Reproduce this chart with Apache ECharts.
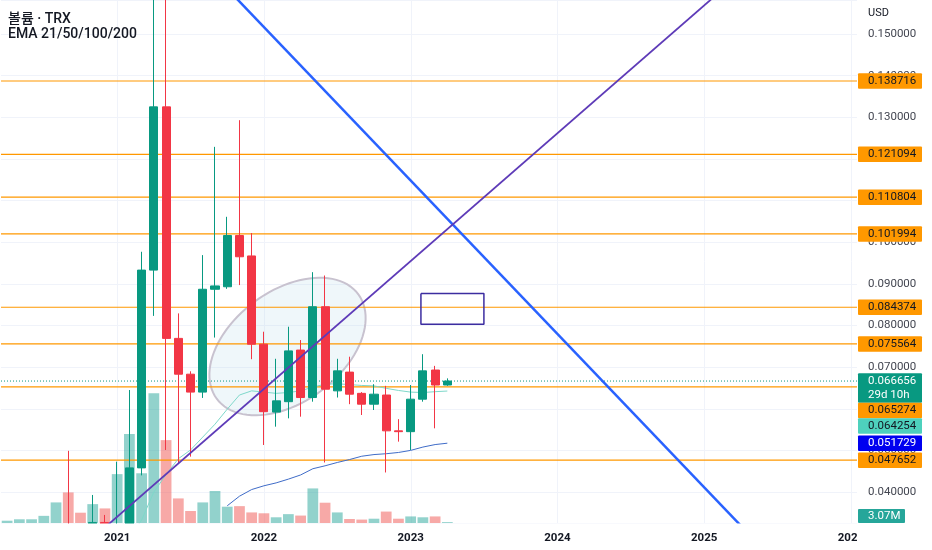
<!DOCTYPE html>
<html><head><meta charset="utf-8">
<script src="https://cdn.jsdelivr.net/npm/echarts@6/dist/echarts.min.js"></script>
<style>html,body{margin:0;padding:0;background:#fff}#c{width:932px;height:550px}</style>
</head><body><div id="c"></div>
<script>
// ---------- data ----------
const months = ['2020-04','2020-05','2020-06','2020-07','2020-08','2020-09','2020-10','2020-11','2020-12',
'2021-01','2021-02','2021-03','2021-04','2021-05','2021-06','2021-07','2021-08','2021-09','2021-10','2021-11','2021-12',
'2022-01','2022-02','2022-03','2022-04','2022-05','2022-06','2022-07','2022-08','2022-09','2022-10','2022-11','2022-12',
'2023-01','2023-02','2023-03','2023-04','2023-05','2023-06','2023-07','2023-08','2023-09','2023-10','2023-11','2023-12',
'2024-01','2024-02','2024-03','2024-04','2024-05','2024-06','2024-07','2024-08','2024-09','2024-10','2024-11','2024-12',
'2025-01','2025-02','2025-03','2025-04','2025-05','2025-06','2025-07','2025-08','2025-09','2025-10','2025-11','2025-12',
'2026-01'];
const opens  = [0.0134,0.0151,0.0156,0.0160,0.0201,0.0300,0.0260,0.0245,0.0327,0.0268,0.0294,0.0458,0.0933,0.1325,0.0769,0.0683,0.0640,0.0887,0.0893,0.1016,0.0967,0.0755,0.0592,0.0617,0.0741,0.0627,0.0845,0.0643,0.0688,0.0637,0.0611,0.0633,0.0547,0.0545,0.0623,0.0693,0.0657];
const highs  = [0.0161,0.0185,0.0186,0.0215,0.0320,0.0499,0.0275,0.0393,0.0345,0.0473,0.0645,0.0977,0.1800,0.1670,0.0829,0.0690,0.0969,0.1229,0.1061,0.1293,0.1022,0.0785,0.0720,0.0797,0.0765,0.0928,0.0920,0.0720,0.0725,0.0640,0.0659,0.0655,0.0575,0.0657,0.0731,0.0703,0.0673];
const lows   = [0.0128,0.0140,0.0152,0.0157,0.0195,0.0225,0.0227,0.0240,0.0245,0.0248,0.0285,0.0440,0.0823,0.0501,0.0470,0.0485,0.0626,0.0771,0.0888,0.0897,0.0719,0.0513,0.0557,0.0577,0.0581,0.0617,0.0471,0.0627,0.0611,0.0585,0.0597,0.0447,0.0521,0.0501,0.0617,0.0553,0.0655];
const closes = [0.0151,0.0156,0.0160,0.0201,0.0300,0.0260,0.0245,0.0327,0.0268,0.0294,0.0458,0.0933,0.1325,0.0769,0.0683,0.0640,0.0887,0.0895,0.1016,0.0965,0.0755,0.0593,0.0619,0.0739,0.0627,0.0845,0.0647,0.0691,0.0635,0.0611,0.0635,0.0547,0.0545,0.0623,0.0691,0.0657,0.066656];
const volumes = [8,13,13,25,72,107,36,66,51,171,311,174,454,290,86,42,72,112,57,59,37,34,20,31,26,121,71,37,14,12,15,40,15,23,20,23,3.07];
const ema21 = [null,null,null,null,null,null,null,null,null,
  0.0255,0.0290,0.0333,0.0400,0.0442,0.0480,0.0501,0.0532,0.0563,0.0599,0.0633,0.0643,
  0.0640,0.0637,0.0639,0.0643,0.0652,0.0659,0.0660,0.0658,0.0656,0.0655,0.0649,0.0644,
  0.0640,0.0639,0.0641,0.064254];
const ema50 = [null,null,null,null,null,null,null,null,null,null,null,null,null,null,null,null,null,null,
  0.0367,0.0390,0.0406,0.0415,0.0422,0.0431,0.0441,0.0456,0.0463,0.0471,0.0478,0.0486,0.0490,0.0492,0.0495,
  0.0500,0.0508,0.0514,0.051729];
const levels = [0.138716,0.121094,0.110804,0.101994,0.084374,0.075564,0.065274,0.047652];
const countdown = '29d 10h';
// drawings in data space: [month index, price]
const blueLine = [[17,0.16394],[62,0.02579]];
const purpleLine = [[7,0.02895],[60,0.16453]];
const boxLeft = 33.84, boxRight = 38.99, boxLow = 0.0803, boxHigh = 0.0877;
const ellCenter = [22.93,0.07495], ellMajor = [28.72,0.08749], ellMinor = [25.63,0.06419];

// ---------- chart ----------
const FONT = 'Roboto, "Noto Sans CJK KR", sans-serif';
const last = closes.length - 1;
const lastClose = closes[last];
const fmt = v => v.toFixed(6);
const isYear = i => months[i].slice(5) === '01';
const candleData = opens.map((o,i)=>[o, closes[i], lows[i], highs[i]]);
const volData = volumes.map((v,i)=>({value:v, itemStyle:{color: closes[i]>=opens[i] ? 'rgba(38,166,154,0.5)' : 'rgba(239,83,80,0.5)'}}));
const boxPoly = [[boxLeft,boxHigh],[boxRight,boxHigh],[boxRight,boxLow],[boxLeft,boxLow],[boxLeft,boxHigh]];
const yearIdx = months.map((m,i)=>i).filter(isYear);

const chart = echarts.init(document.getElementById('c'));
chart.setOption({
  animation:false,
  backgroundColor:'#ffffff',
  graphic:[
    {type:'text', x:8, y:19.5, style:{text:'볼륨 · TRX', font:'500 14px '+FONT, fill:'#131722', verticalAlign:'middle'}, z:100},
    {type:'text', x:8, y:34, style:{text:'EMA 21/50/100/200', font:'500 14px '+FONT, fill:'#131722', verticalAlign:'middle'}, z:100},
    {type:'text', x:868, y:13, style:{text:'USD', font:'11px '+FONT, fill:'#131722', verticalAlign:'middle'}, z:100},
    {type:'rect', shape:{x:0, y:523.5, width:857, height:27}, style:{fill:'#ffffff'}, z:100},
    {type:'rect', shape:{x:857, y:525, width:75, height:25}, style:{fill:'#ffffff'}, z:300}
  ],
  grid:{left:1, right:75, top:0, bottom:27},
  xAxis:[
    {type:'category', data:months, boundaryGap:true, z:200,
     axisLine:{show:false}, axisTick:{show:false}, splitLine:{show:false},
     axisLabel:{interval:(i)=>isYear(i), formatter:v=>v.slice(0,4), color:'#131722', fontWeight:'bold',
       fontSize:11.5, fontFamily:FONT, margin:9}},
    {type:'value', min:-0.5, max:months.length-0.5, show:false, splitLine:{show:false}}
  ],
  yAxis:[
    {type:'value', position:'right', min:0.032565, max:0.158165, minInterval:0.01, maxInterval:0.01, splitNumber:12,
     axisLine:{show:false}, axisTick:{show:false},
     axisLabel:{showMinLabel:false, showMaxLabel:false, formatter:v=>v.toFixed(6), color:'#434651',
       fontSize:11.5, fontFamily:FONT, margin:11},
     splitLine:{lineStyle:{color:'#f0f3fa'}}},
    {type:'value', min:0, max:1830, show:false, splitLine:{show:false}}
  ],
  series:[
    {type:'custom', name:'yeargrid', xAxisIndex:1, yAxisIndex:0, z:0, silent:true, data:[[0,0.1]],
     renderItem:(params, api)=>{
       const cs = params.coordSys;
       return {type:'group', children: yearIdx.map(i=>{
         const x = Math.round(api.coord([i,0.1])[0])+0.5;
         return {type:'line', shape:{x1:x,y1:cs.y,x2:x,y2:cs.y+cs.height}, style:{stroke:'#f0f3fa', lineWidth:1}};
       })};
     }},
    {type:'bar', name:'volume', xAxisIndex:0, yAxisIndex:1, data:volData, barWidth:'88%', z:1, silent:true},
    {type:'custom', name:'ellipse', xAxisIndex:1, yAxisIndex:0, z:1, silent:true, data:[ellCenter],
     renderItem:(params, api)=>{
       const c = api.coord(ellCenter), p1 = api.coord(ellMajor), p2 = api.coord(ellMinor);
       const ax = [p1[0]-c[0], p1[1]-c[1]], bx = [p2[0]-c[0], p2[1]-c[1]];
       const pts = [];
       for (let k=0;k<96;k++){ const t = k/96*Math.PI*2;
         pts.push([c[0]+Math.cos(t)*ax[0]+Math.sin(t)*bx[0], c[1]+Math.cos(t)*ax[1]+Math.sin(t)*bx[1]]); }
       return {type:'polygon', shape:{points:pts}, style:{fill:'rgba(173,216,230,0.2)', stroke:'#c8c2cf', lineWidth:2}};
     }},
    {type:'custom', name:'levels', xAxisIndex:1, yAxisIndex:0, z:2, silent:true, data:[[0,lastClose]],
     renderItem:(params, api)=>{
       const cs = params.coordSys;
       const ch = levels.map(v=>{ const y = api.coord([0,v])[1];
         return {type:'line', shape:{x1:cs.x,y1:y,x2:cs.x+cs.width,y2:y}, style:{stroke:'#ff9800', lineWidth:1.2}}; });
       const yc = api.coord([0,lastClose])[1];
       ch.push({type:'line', shape:{x1:cs.x,y1:yc,x2:cs.x+cs.width,y2:yc}, style:{stroke:'#089981', lineWidth:1, lineDash:[1,2]}});
       return {type:'group', children:ch};
     }},
    {type:'line', name:'EMA21', xAxisIndex:0, yAxisIndex:0, data:ema21, showSymbol:false, z:3, silent:true,
     lineStyle:{color:'#7fd8ca', width:1}},
    {type:'line', name:'EMA50', xAxisIndex:0, yAxisIndex:0, data:ema50, showSymbol:false, z:3, silent:true,
     lineStyle:{color:'#3f6cc8', width:1}},
    {type:'candlestick', name:'TRX', xAxisIndex:0, yAxisIndex:0, data:candleData, barWidth:'70%', z:4, silent:true, clip:true,
     itemStyle:{color:'#089981', color0:'#f23645', borderColor:'#089981', borderColor0:'#f23645', borderWidth:1}},
    {type:'line', name:'down', xAxisIndex:1, yAxisIndex:0, data:blueLine, showSymbol:false, z:5, silent:true,
     lineStyle:{color:'#2962ff', width:2.5}},
    {type:'line', name:'up', xAxisIndex:1, yAxisIndex:0, data:purpleLine, showSymbol:false, z:5, silent:true,
     lineStyle:{color:'#5e3bb8', width:1.8}},
    {type:'line', name:'box', xAxisIndex:1, yAxisIndex:0, data:boxPoly, showSymbol:false, z:5, silent:true,
     lineStyle:{color:'#3c2da0', width:1.5}},
    {type:'custom', name:'tags', xAxisIndex:1, yAxisIndex:0, z:10, silent:true, data:[[0,lastClose]],
     renderItem:(params, api)=>{
       const cs = params.coordSys; const bx = cs.x + cs.width + 1;
       const tags = [{v:lastClose, lines:[fmt(lastClose), countdown], bg:'#089981', fg:'#ffffff'}];
       levels.forEach(v=>tags.push({v, lines:[fmt(v)], bg:'#ff9800', fg:'#131722'}));
       tags.push({v:ema21[last], lines:[fmt(ema21[last])], bg:'#4ed1bd', fg:'#131722'});
       tags.push({v:ema50[last], lines:[fmt(ema50[last])], bg:'#0000f0', fg:'#ffffff'});
       tags.forEach(t=>{ t.y = api.coord([0,t.v])[1]; t.h = 15.5 + 14*(t.lines.length-1); t.top = t.y - 7.75; });
       tags.sort((a,b)=>a.top-b.top);
       let prev = -1e9; const ch = [];
       tags.forEach(t=>{
         const top = Math.max(t.top, prev); prev = top + t.h;
         ch.push({type:'rect', shape:{x:bx, y:top, width:64, height:t.h, r:1}, style:{fill:t.bg}});
         t.lines.forEach((s,k)=>ch.push({type:'text', style:{text:s, x:bx+10, y:top+7.75+14*k, fill:t.fg,
           font:'11.5px '+FONT, align:'left', verticalAlign:'middle'}}));
       });
       return {type:'group', children:ch};
     }},
    {type:'custom', name:'voltag', xAxisIndex:1, yAxisIndex:1, z:10, silent:true, data:[[0,volumes[last]]],
     renderItem:(params, api)=>{
       const cs = params.coordSys; const bx = cs.x + cs.width + 1;
       const h = 14; const y = api.coord([0,volumes[last]])[1];
       const top = Math.min(y - h/2, cs.y + cs.height - h);
       return {type:'group', children:[
         {type:'rect', shape:{x:bx, y:top, width:47, height:h, r:1}, style:{fill:'#26a69a'}},
         {type:'text', style:{text:volumes[last].toFixed(2)+'M', x:bx+10, y:top+h/2, fill:'#ffffff',
           font:'11.5px '+FONT, align:'left', verticalAlign:'middle'}}
       ]};
     }}
  ]
});
</script>
</body></html>
